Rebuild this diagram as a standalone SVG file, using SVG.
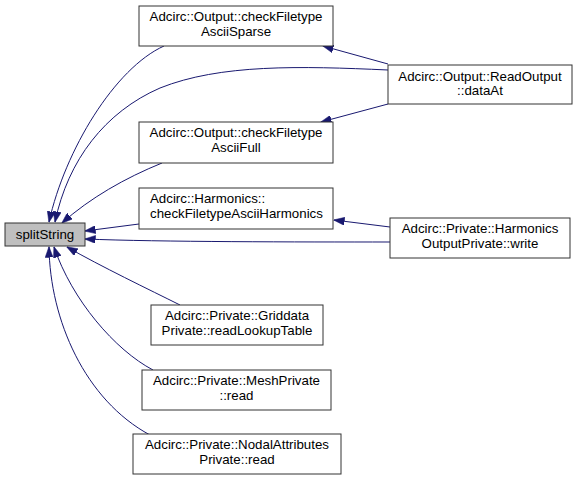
<svg xmlns="http://www.w3.org/2000/svg" width="577" height="483" viewBox="0 0 577 483">
<style>
.node rect{fill:#ffffff;stroke:#333333;stroke-width:1}
.node.cur rect{fill:#bfbfbf}
.node text{font-family:"Liberation Sans",Arial,Helvetica,sans-serif;font-size:13.3px;fill:#000;text-anchor:middle}
.node text.l{text-anchor:start}
.edge{fill:none;stroke:#191970;stroke-width:1;marker-end:url(#ah)}
</style>
<defs>
<marker id="ah" markerUnits="userSpaceOnUse" viewBox="0 0 11 8" refX="10.5" refY="4" markerWidth="11" markerHeight="8" orient="auto">
<polygon points="0,0 11,4 0,8" fill="#191970" stroke="#191970" stroke-width="0.5"/>
</marker>
</defs>
<rect width="577" height="483" fill="#ffffff"/>
<g id="connectors">
<path class="edge" d="M164,46 C115,68 65,150 49,222"/>
<path class="edge" d="M388,70 C300,66 220,64 160,88 C105,112 68,160 55,222"/>
<path class="edge" d="M162,163 C125,178 90,198 62,223"/>
<path class="edge" d="M139,224 L85,231"/>
<path class="edge" d="M390,242 C300,242 160,242 85,239"/>
<path class="edge" d="M180,305 C150,290 100,266 67,247"/>
<path class="edge" d="M153,370 C115,350 72,300 54,247"/>
<path class="edge" d="M150,435 C85,400 50,320 49,247"/>
<path class="edge" d="M388,64 L323,46"/>
<path class="edge" d="M388,104 L321,122"/>
<path class="edge" d="M390,227 L334,220"/>
</g>
<g id="splitString" class="node cur">
<rect x="5" y="223" width="80" height="23"/>
<text x="45" y="239">splitString</text>
</g>
<g id="checkFiletypeAsciiSparse" class="node">
<rect x="139" y="6" width="194" height="40"/>
<text x="236" y="21">Adcirc::Output::checkFiletype</text>
<text x="236" y="36">AsciiSparse</text>
</g>
<g id="dataAt" class="node">
<rect x="388" y="65" width="184" height="39"/>
<text x="480" y="80.5">Adcirc::Output::ReadOutput</text>
<text x="480" y="95">::dataAt</text>
</g>
<g id="checkFiletypeAsciiFull" class="node">
<rect x="139" y="122" width="194" height="41"/>
<text x="236" y="137">Adcirc::Output::checkFiletype</text>
<text x="236" y="152">AsciiFull</text>
</g>
<g id="checkFiletypeAsciiHarmonics" class="node">
<rect x="139" y="188" width="194" height="41"/>
<text class="l" x="150" y="203">Adcirc::Harmonics::</text>
<text class="l" x="150" y="218">checkFiletypeAsciiHarmonics</text>
</g>
<g id="harmonicsWrite" class="node">
<rect x="390" y="218" width="180" height="40"/>
<text x="480" y="233">Adcirc::Private::Harmonics</text>
<text x="480" y="248">OutputPrivate::write</text>
</g>
<g id="readLookupTable" class="node">
<rect x="151" y="305" width="172" height="40"/>
<text x="237" y="320">Adcirc::Private::Griddata</text>
<text x="237" y="335">Private::readLookupTable</text>
</g>
<g id="meshRead" class="node">
<rect x="142" y="370" width="189" height="40"/>
<text x="236.5" y="385">Adcirc::Private::MeshPrivate</text>
<text x="236.5" y="400">::read</text>
</g>
<g id="nodalRead" class="node">
<rect x="133" y="434" width="208" height="40"/>
<text x="237" y="449">Adcirc::Private::NodalAttributes</text>
<text x="237" y="464">Private::read</text>
</g>
</svg>
